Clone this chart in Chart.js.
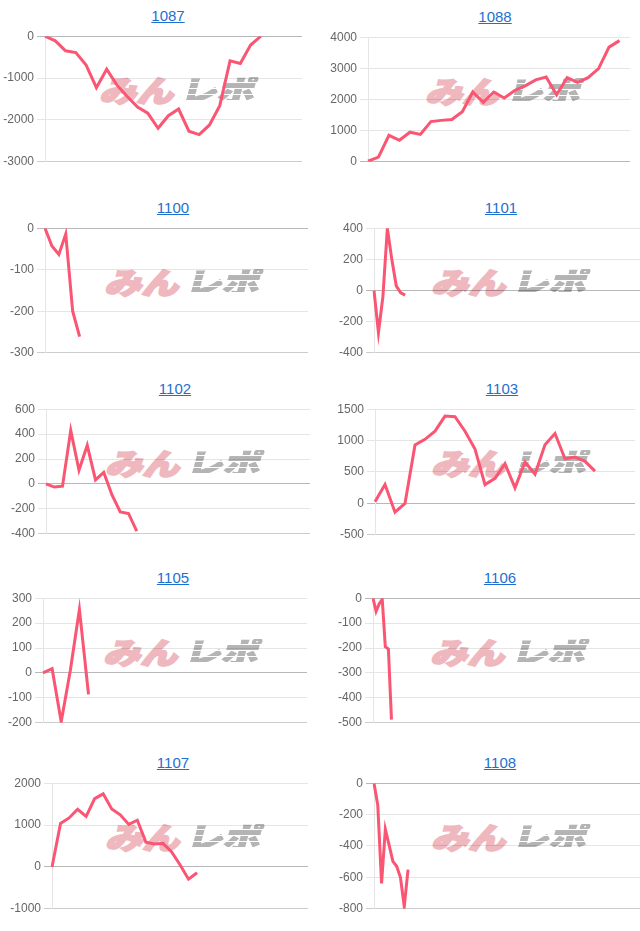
<!DOCTYPE html>
<html>
<head>
<meta charset="utf-8">
<script src="https://cdn.jsdelivr.net/npm/chart.js@4"></script>
<style>
body { margin: 0; width: 640px; height: 931px; overflow: hidden; position: relative; background: #fff; font-family: Arial, "Liberation Sans", sans-serif; }
.title { position: absolute; width: 100px; text-align: center; font-size: 15px; line-height: 18px; }
.title a { color: #1f6fd0; text-decoration: underline; }
.wm { position: absolute; height: 30px; font-family: "Noto Sans CJK JP"; font-weight: 900; font-size: 37px; line-height: 30px; white-space: nowrap; transform-origin: left top; transform: skewX(-15deg) scaleY(0.8); }
.wm .a { color: rgb(238, 184, 190); -webkit-text-stroke: 2.5px rgb(238, 184, 190); }
.wm .b { display: inline-block; margin-left: 6px; color: rgb(180, 180, 180); -webkit-text-stroke: 1.6px rgb(180, 180, 180);
    -webkit-mask-image: repeating-linear-gradient(to bottom, #000 0 6px, transparent 6px 7.5px);
    mask-image: repeating-linear-gradient(to bottom, #000 0 6px, transparent 6px 7.5px); }
canvas { position: absolute; }
</style>
</head>
<body>
<script>
// chart names, in page order
const titles = ['1087', '1088', '1100', '1101', '1102', '1103', '1105', '1106', '1107', '1108'];

// balance series
const d1087 = [0, -110, -350, -390, -690, -1230, -790, -1170, -1440, -1690, -1840, -2200, -1900, -1740, -2270, -2350, -2120, -1660, -590, -650, -210, 0];
const d1088 = [20, 150, 850, 690, 950, 880, 1290, 1330, 1360, 1610, 2240, 1910, 2240, 2050, 2290, 2440, 2630, 2720, 2150, 2700, 2550, 2700, 2990, 3680, 3890];
const d1100 = [0, -43, -63, -14, -200, -261];
const d1101 = [0, -270, -40, 400, 200, 30, -15, -30];
const d1102 = [0, -25, -18, 430, 110, 310, 33, 93, -88, -224, -237, -379];
const d1103 = [25, 300, -140, 0, 930, 1020, 1150, 1390, 1380, 1150, 866, 300, 400, 634, 247, 660, 464, 933, 1113, 711, 737, 670, 515];
const d1105 = [0, 17, -196, 10, 255, -86];
const d1106 = [0, -53, -23, -4, -195, -204, -487];
const d1107 = [0, 1040, 1170, 1377, 1208, 1630, 1746, 1385, 1246, 1015, 1115, 592, 546, 562, 362, 54, -292, -138];
const d1108 = [0, -140, -638, -293, -395, -498, -529, -601, -786, -550];
const series = [d1087, d1088, d1100, d1101, d1102, d1103, d1105, d1106, d1107, d1108];

// number of x slots on each chart (x labels are hidden)
const slotCounts = [26, 26, 39, 63, 33, 27, 30, 91, 31, 74];

// y axis tick range
const yMin = [-3000, 0, -300, -400, -400, -500, -200, -500, -1000, -800];
const yMax = [0, 4000, 0, 400, 600, 1500, 300, 0, 2000, 0];
const yStep = [1000, 1000, 100, 200, 200, 500, 100, 100, 1000, 200];

// where each plot area sits on the page
const boxes = [
    { l: 45, r: 302, t: 34, b: 164, tx: 168, wx: 106 },
    { l: 368, r: 630, t: 35, b: 164, tx: 495, wx: 432 },
    { l: 45, r: 308, t: 226, b: 355, tx: 173, wx: 111 },
    { l: 374, r: 650, t: 226, b: 355, tx: 501, wx: 438 },
    { l: 46, r: 310, t: 407, b: 536, tx: 175, wx: 112 },
    { l: 375, r: 635, t: 407, b: 537, tx: 502, wx: 438 },
    { l: 43, r: 307, t: 596, b: 725, tx: 173, wx: 110 },
    { l: 373, r: 650, t: 596, b: 725, tx: 500, wx: 437 },
    { l: 52, r: 308, t: 781, b: 911, tx: 173, wx: 112 },
    { l: 374, r: 650, t: 781, b: 911, tx: 500, wx: 438 }
];

titles.forEach(function(name, i) {
    var box = boxes[i];
    var colLeft = box.l > 320 ? 320 : 0;

    var title = document.createElement('div');
    title.className = 'title';
    title.style.left = (box.tx - 50) + 'px';
    title.style.top = (box.t - 27) + 'px';
    title.innerHTML = '<a href="#">' + name + '</a>';
    document.body.appendChild(title);

    var wm = document.createElement('div');
    wm.className = 'wm';
    wm.style.left = box.wx + 'px';
    wm.style.top = (box.t + 43) + 'px';
    wm.innerHTML = '<span class="a">みん</span><span class="b">レポ</span>';
    document.body.appendChild(wm);

    var canvas = document.createElement('canvas');
    canvas.width = box.r - colLeft;
    canvas.height = box.b - box.t + 16;
    canvas.style.left = colLeft + 'px';
    canvas.style.top = (box.t - 8) + 'px';
    document.body.appendChild(canvas);

    var axisWidth = box.l - colLeft;
    var labels = [];
    for (var k = 1; k <= slotCounts[i]; k++) labels.push(k);

    new Chart(canvas, {
        type: 'line',
        data: {
            labels: labels,
            datasets: [{
                data: series[i],
                borderColor: 'rgb(250, 85, 115)',
                borderWidth: 3,
                pointRadius: 0,
                fill: false,
                tension: 0
            }]
        },
        options: {
            responsive: false,
            animation: false,
            devicePixelRatio: 1,
            layout: { padding: { top: 8, bottom: 8, left: 0, right: 0 } },
            plugins: { legend: { display: false }, tooltip: { enabled: false } },
            scales: {
                x: { display: false },
                y: {
                    min: yMin[i],
                    max: yMax[i],
                    ticks: {
                        stepSize: yStep[i],
                        color: '#666',
                        font: { size: 12 },
                        callback: function(value) { return String(value); }
                    },
                    grid: {
                        color: function(ctx) {
                            if (ctx.tick && ctx.tick.value === 0) return 'rgba(0,0,0,0.28)';
                            if (ctx.index === 0) return 'rgba(0,0,0,0.2)';
                            return 'rgba(0,0,0,0.1)';
                        }
                    },
                    border: { color: 'rgba(0,0,0,0.1)' },
                    afterFit: function(scale) { scale.width = axisWidth; }
                }
            }
        }
    });
});
</script>
</body>
</html>
